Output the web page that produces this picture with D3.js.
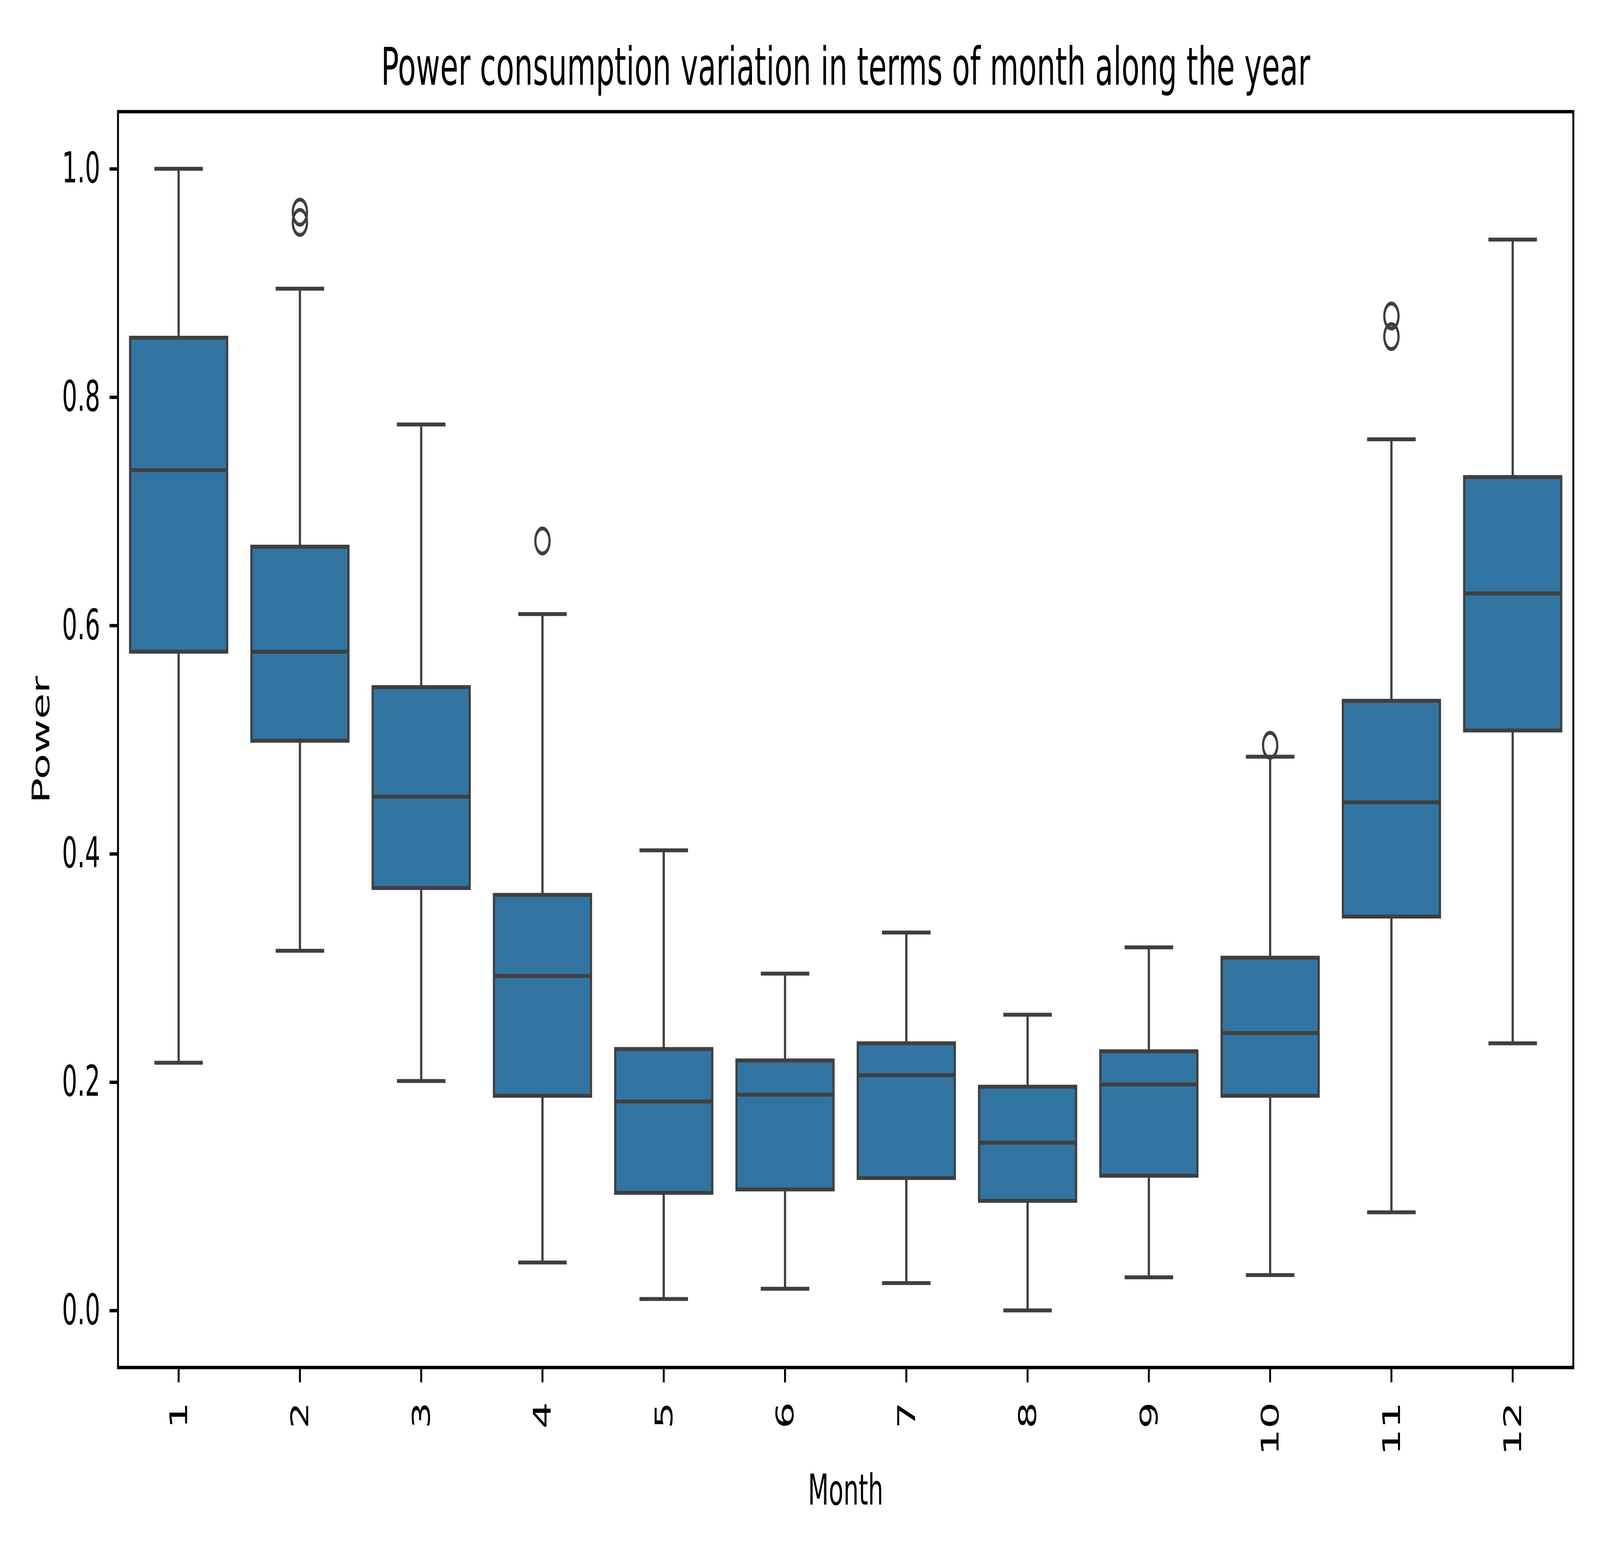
<!DOCTYPE html>
<html>
<head>
<meta charset="utf-8">
<script src="https://cdn.jsdelivr.net/npm/d3@7"></script>
<style>
  html, body { margin: 0; padding: 0; background: #fff; overflow: hidden; }
  svg { display: block; width: 100vw; height: 100vh; }
  text { font-family: "DejaVu Sans", sans-serif; fill: #000; }
</style>
</head>
<body>
<div id="chart"></div>
<script>
// box statistics, one entry per month
var months = ["1", "2", "3", "4", "5", "6", "7", "8", "9", "10", "11", "12"];
var whiskerLow  = [0.217, 0.315, 0.201, 0.042, 0.010, 0.019, 0.024, 0.000, 0.029, 0.031, 0.086, 0.234];
var q1          = [0.577, 0.499, 0.370, 0.188, 0.103, 0.106, 0.116, 0.096, 0.118, 0.188, 0.345, 0.508];
var medians     = [0.736, 0.577, 0.450, 0.293, 0.183, 0.189, 0.206, 0.147, 0.198, 0.243, 0.445, 0.628];
var q3          = [0.852, 0.669, 0.546, 0.364, 0.229, 0.219, 0.234, 0.196, 0.227, 0.309, 0.534, 0.730];
var whiskerHigh = [1.000, 0.895, 0.776, 0.610, 0.403, 0.295, 0.331, 0.259, 0.318, 0.485, 0.763, 0.938];
var outliers = [
  { month: "2", value: 0.962 },
  { month: "2", value: 0.953 },
  { month: "4", value: 0.674 },
  { month: "10", value: 0.495 },
  { month: "11", value: 0.871 },
  { month: "11", value: 0.853 }
];
var yTicks = [0.0, 0.2, 0.4, 0.6, 0.8, 1.0];

var W = 7200, H = 4000;
var margin = { top: 286, right: 120, bottom: 498, left: 531 };
var width = W - margin.left - margin.right,
    height = H - margin.top - margin.bottom;

var boxes = months.map(function(m, i) {
  return { month: m, lo: whiskerLow[i], q1: q1[i], med: medians[i], q3: q3[i], hi: whiskerHigh[i] };
});

// drawn in a 7200x4000 user space, stretched to whatever the window is
var svg = d3.select("#chart").append("svg")
  .attr("viewBox", "0 0 " + W + " " + H)
  .attr("preserveAspectRatio", "none");

var g = svg.append("g")
  .attr("transform", "translate(" + margin.left + "," + margin.top + ")");

var x = d3.scaleBand()
  .domain(months)
  .range([0, width])
  .paddingInner(0.2)
  .paddingOuter(0.1);

var y = d3.scaleLinear()
  .domain([-0.05, 1.05])
  .range([height, 0]);

var lineCol = "#3f3f3f", lw = 10;
var bw = x.bandwidth();
var cx = function(d) { return x(d.month) + bw / 2; };

var bg = g.selectAll(".box").data(boxes).enter().append("g").attr("class", "box");

// whiskers
bg.append("line")
  .attr("x1", cx).attr("x2", cx)
  .attr("y1", function(d) { return y(d.hi); })
  .attr("y2", function(d) { return y(d.q3); })
  .attr("stroke", lineCol).attr("stroke-width", lw);
bg.append("line")
  .attr("x1", cx).attr("x2", cx)
  .attr("y1", function(d) { return y(d.q1); })
  .attr("y2", function(d) { return y(d.lo); })
  .attr("stroke", lineCol).attr("stroke-width", lw);

// caps
["hi", "lo"].forEach(function(k) {
  bg.append("line")
    .attr("x1", function(d) { return cx(d) - bw / 4; })
    .attr("x2", function(d) { return cx(d) + bw / 4; })
    .attr("y1", function(d) { return y(d[k]); })
    .attr("y2", function(d) { return y(d[k]); })
    .attr("stroke", lineCol).attr("stroke-width", lw);
});

// boxes
bg.append("rect")
  .attr("x", function(d) { return x(d.month); })
  .attr("width", bw)
  .attr("y", function(d) { return y(d.q3); })
  .attr("height", function(d) { return y(d.q1) - y(d.q3); })
  .attr("fill", "#3274a1")
  .attr("stroke", lineCol).attr("stroke-width", lw);

// medians
bg.append("line")
  .attr("x1", function(d) { return x(d.month); })
  .attr("x2", function(d) { return x(d.month) + bw; })
  .attr("y1", function(d) { return y(d.med); })
  .attr("y2", function(d) { return y(d.med); })
  .attr("stroke", lineCol).attr("stroke-width", lw);

// fliers
g.selectAll(".flier").data(outliers).enter().append("circle")
  .attr("class", "flier")
  .attr("cx", function(d) { return x(d.month) + bw / 2; })
  .attr("cy", function(d) { return y(d.value); })
  .attr("r", 32)
  .attr("fill", "none")
  .attr("stroke", lineCol).attr("stroke-width", 10);

// axes
var xAxis = d3.axisBottom(x).tickSizeOuter(0).tickSize(38).tickPadding(38);
var yAxis = d3.axisLeft(y).tickValues(yTicks).tickFormat(d3.format(".1f"))
  .tickSizeOuter(0).tickSize(38).tickPadding(42);

var gx = g.append("g")
  .attr("transform", "translate(0," + height + ")")
  .call(xAxis);
gx.selectAll(".tick line").attr("stroke", "#000").attr("stroke-width", 8.6);
gx.selectAll(".tick text")
  .attr("font-size", 108)
  .attr("font-family", "DejaVu Sans")
  .attr("transform", "translate(0,88) rotate(-90)")
  .attr("x", 0).attr("y", 0).attr("dy", "0.35em")
  .attr("text-anchor", "end");
gx.select(".domain").remove();

var gy = g.append("g").call(yAxis);
gy.selectAll(".tick line").attr("stroke", "#000").attr("stroke-width", 8.6);
gy.selectAll(".tick text").attr("font-size", 108).attr("font-family", "DejaVu Sans");
gy.select(".domain").remove();

// frame
g.append("rect")
  .attr("width", width).attr("height", height)
  .attr("fill", "none")
  .attr("stroke", "#000").attr("stroke-width", 8.6);

// labels
svg.append("text")
  .attr("x", margin.left + width / 2).attr("y", 217)
  .attr("text-anchor", "middle")
  .attr("font-size", 133)
  .text("Power consumption variation in terms of month along the year");

svg.append("text")
  .attr("x", margin.left + width / 2).attr("y", 3853)
  .attr("text-anchor", "middle")
  .attr("font-size", 108)
  .text("Month");

svg.append("text")
  .attr("transform", "translate(222," + (margin.top + height / 2) + ") rotate(-90)")
  .attr("text-anchor", "middle")
  .attr("font-size", 108)
  .text("Power");
</script>
</body>
</html>
